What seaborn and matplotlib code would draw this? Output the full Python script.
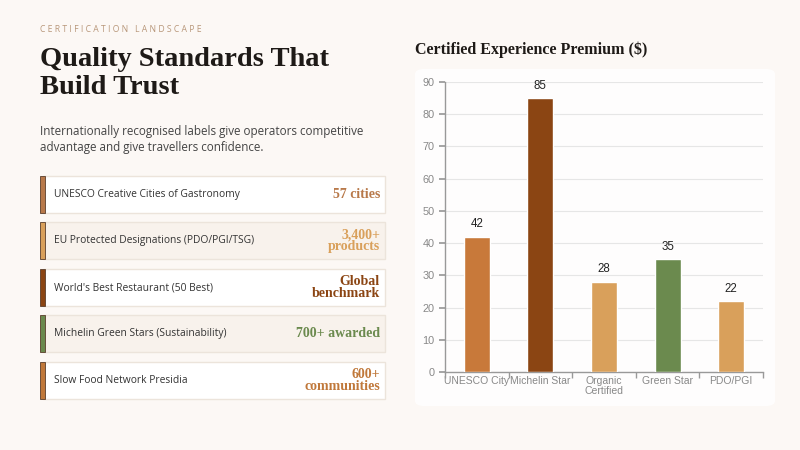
import matplotlib
matplotlib.use("Agg")
import matplotlib.pyplot as plt
import seaborn as sns
import pandas as pd
from matplotlib.patches import FancyBboxPatch, Rectangle

# chart data
categories = ["UNESCO City", "Michelin Star", "Organic\nCertified", "Green Star", "PDO/PGI"]
premiums = [42, 85, 28, 35, 22]
bar_colors = ["#c8793a", "#8b4513", "#d9a05b", "#6b8a4e", "#d9a05b"]

# certification cards
card_labels = [
    "UNESCO Creative Cities of Gastronomy",
    "EU Protected Designations (PDO/PGI/TSG)",
    "World's Best Restaurant (50 Best)",
    "Michelin Green Stars (Sustainability)",
    "Slow Food Network Presidia",
]
card_values = ["57 cities", "3,400+\nproducts", "Global\nbenchmark", "700+ awarded", "600+\ncommunities"]
card_colors = ["#b8794a", "#d9a05b", "#8b4513", "#6b8a4e", "#c0783a"]

W, H = 800, 450
BG = "#fcf8f5"


def fx(px):
    return px / W


def fy(py):
    return 1 - py / H


sns.set_theme(style="white")
plt.rcParams["font.family"] = ["Liberation Sans", "DejaVu Sans"]

fig = plt.figure(figsize=(8, 4.5), dpi=100)
fig.patch.set_facecolor(BG)

# left column text
fig.text(fx(40), fy(29), "C E R T I F I C A T I O N   L A N D S C A P E", fontsize=6.2,
         color="#b8977a", family=["Open Sans", "DejaVu Sans"], va="center")
fig.text(fx(40), fy(59), "Quality Standards That", fontsize=20.5, fontweight="bold",
         color="#1e1a17", family=["Liberation Serif", "DejaVu Serif"], va="center")
fig.text(fx(40), fy(87), "Build Trust", fontsize=20.5, fontweight="bold",
         color="#1e1a17", family=["Liberation Serif", "DejaVu Serif"], va="center")
fig.text(fx(40), fy(131), "Internationally recognised labels give operators competitive", fontsize=8.4,
         color="#444444", family=["Open Sans", "DejaVu Sans"], va="center")
fig.text(fx(40), fy(147), "advantage and give travellers confidence.", fontsize=8.4,
         color="#444444", family=["Open Sans", "DejaVu Sans"], va="center")

card_tops = [176, 222, 269, 315, 362]
card_h = 37
for i, (lab, val, col, top) in enumerate(zip(card_labels, card_values, card_colors, card_tops)):
    face = "#ffffff" if i % 2 == 0 else "#f8f2ec"
    fig.patches.append(Rectangle((fx(43), fy(top + card_h)), fx(385) - fx(43), card_h / H,
                                 transform=fig.transFigure, facecolor=face,
                                 edgecolor="#ece4db", linewidth=1))
    fig.patches.append(Rectangle((fx(40), fy(top + card_h)), fx(45) - fx(40), card_h / H,
                                 transform=fig.transFigure, facecolor=col,
                                 edgecolor="#5a3e2b", linewidth=0.6))
    mid = top + card_h / 2
    fig.text(fx(54), fy(mid), lab, fontsize=7.4, color="#333333",
             family=["Open Sans", "DejaVu Sans"], va="center")
    fig.text(fx(380), fy(mid), val, fontsize=10, fontweight="bold", color=col,
             family=["Liberation Serif", "DejaVu Serif"], va="center", ha="right",
             linespacing=0.85)

# chart panel
panel = FancyBboxPatch((fx(415), fy(406)), fx(775) - fx(415), (406 - 69) / H,
                       boxstyle="round,pad=0,rounding_size=0.012",
                       transform=fig.transFigure, facecolor="#ffffff",
                       edgecolor="none", alpha=0.85, zorder=0)
fig.patches.append(panel)
fig.text(fx(415), fy(50), "Certified Experience Premium ($)", fontsize=11.5, fontweight="bold",
         color="#1e1a17", family=["Liberation Serif", "DejaVu Serif"], va="center")

ax = fig.add_axes([fx(445), fy(372), fx(763) - fx(445), (372 - 82) / H])
ax.set_zorder(3)
ax.set_facecolor("none")
df = pd.DataFrame({"category": categories, "premium": premiums})
sns.barplot(data=df, x="category", y="premium", hue="category",
            palette=dict(zip(categories, bar_colors)), legend=False,
            width=0.41, saturation=1, ax=ax, zorder=3)

for i, v in enumerate(premiums):
    ax.text(i, v + 2, str(v), ha="center", va="bottom", fontsize=8.3, color="#222222")

ax.set_ylim(0, 90)
ax.set_xlim(-0.5, 4.5)
ax.set_yticks(range(0, 91, 10))
ax.yaxis.grid(True, color="#e6e6e6", linewidth=0.8, zorder=0)
ax.xaxis.grid(False)
ax.set_axisbelow(True)
ax.set_xlabel("")
ax.set_ylabel("")
ax.tick_params(axis="y", labelsize=7.8, labelcolor="#888888", length=4, color="#999999", left=True)
ax.tick_params(axis="x", which="major", labelsize=7.5, labelcolor="#888888", length=0, pad=3)
ax.set_xticks([x + 0.5 for x in range(-1, 5)], minor=True)
ax.tick_params(axis="x", which="minor", length=4, color="#999999", bottom=True)
for s in ["top", "right"]:
    ax.spines[s].set_visible(False)
for s in ["left", "bottom"]:
    ax.spines[s].set_color("#999999")
    ax.spines[s].set_linewidth(1)
for t in ax.get_xticklabels():
    t.set_linespacing(1.0)

fig.savefig("out.png", dpi=100, facecolor=BG)
